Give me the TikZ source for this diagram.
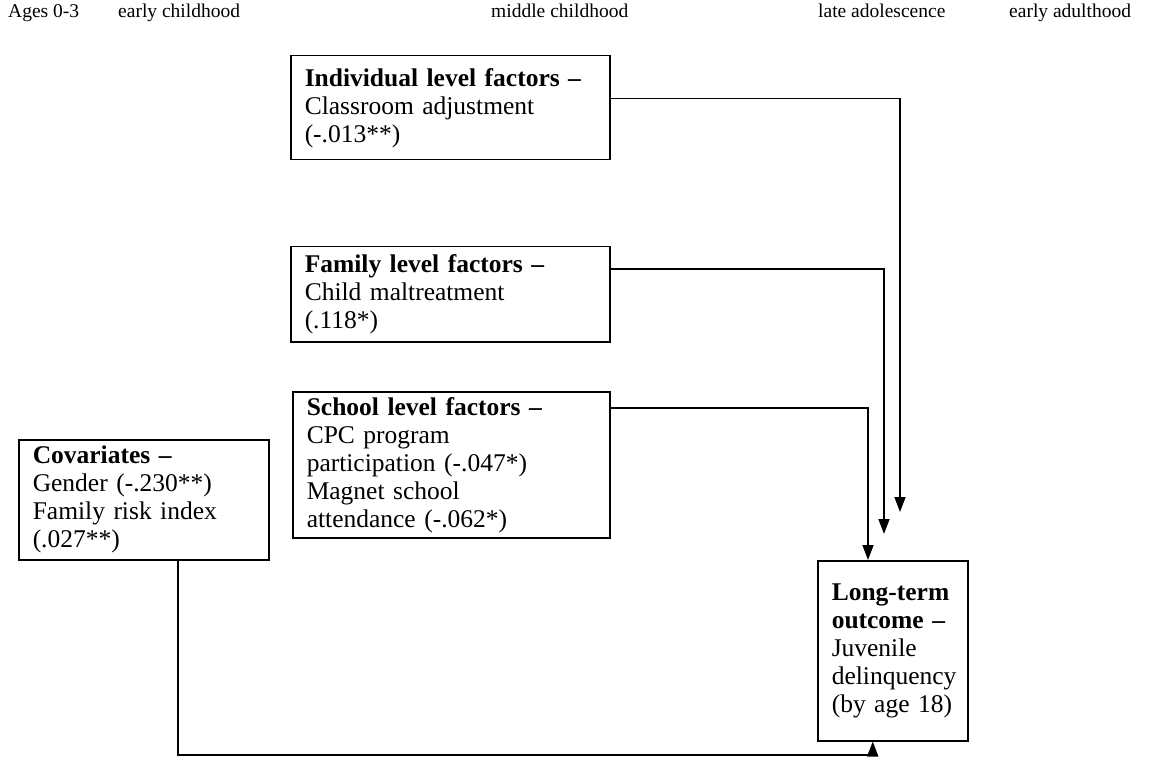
\documentclass[tikz,border=0pt]{standalone}
\usepackage{fontspec}
\setmainfont{Liberation Serif}
\usetikzlibrary{arrows.meta}
\newcommand\boxfont{\fontsize{25.5}{28}\selectfont}
\newcommand\topfont{\fontsize{19.5}{22}\selectfont}
\begin{document}
\begin{tikzpicture}[x=1pt,y=-1pt,
  box/.style={draw, line width=1.5pt, rectangle, anchor=north west, align=left,
    inner xsep=14pt, inner ysep=3pt, font=\boxfont},
  toplbl/.style={anchor=base west, inner sep=0pt, font=\topfont},
  arr/.style={line width=1.5pt, -{Triangle[width=11pt,length=15pt]}}]
\useasboundingbox (0,0) rectangle (1157,778);
% age labels
\node[toplbl] (a1) at (8,18) {Ages 0-3};
\node[toplbl] (a2) at (118,18) {early childhood};
\node[toplbl] (a3) at (491,18) {middle childhood};
\node[toplbl] (a4) at (818,18) {late adolescence};
\node[toplbl] (a5) at (1009,18) {early adulthood};
% boxes
\node[box, text width=291pt, minimum height=104pt] (ind) at (290,55)
  {\textbf{Individual level factors –}\\Classroom adjustment\\(-.013**)};
\node[box, text width=291pt, minimum height=95pt] (fam) at (290,246)
  {\textbf{Family level factors –}\\Child maltreatment\\(.118*)};
\node[box, text width=289pt, minimum height=146pt] (sch) at (292,391)
  {\textbf{School level factors –}\\CPC program\\participation (-.047*)\\Magnet school\\attendance (-.062*)};
\node[box, text width=222pt, minimum height=120pt] (cov) at (18,439)
  {\textbf{Covariates –}\\Gender (-.230**)\\Family risk index\\(.027**)};
\node[box, text width=122pt, minimum height=180pt] (lt) at (817,560)
  {\textbf{Long-term}\\\textbf{outcome –}\\Juvenile\\delinquency\\(by age 18)};
% arrow tips
\coordinate (t1) at (900,512);
\coordinate (t2) at (884,534);
\coordinate (t3) at (868,560);
\coordinate (b1) at (178,755);
\draw[arr] ([yshift=9pt]ind.east) -| (t1);
\draw[arr] ([yshift=25pt]fam.east) -| (t2);
\draw[arr] ([yshift=57pt]sch.east) -| (t3);
\draw[arr] (cov.south -| b1) |- ([xshift=-20pt]lt.south |- b1) -- ([xshift=-20pt]lt.south);
\end{tikzpicture}
\end{document}
